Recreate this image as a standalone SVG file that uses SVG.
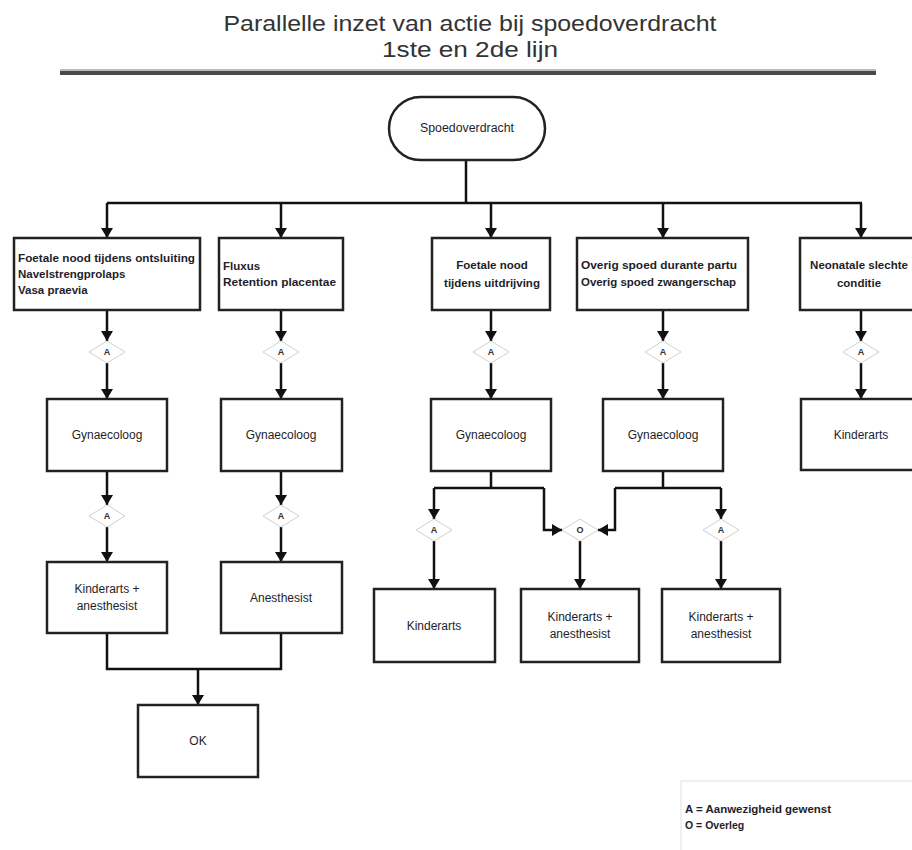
<svg xmlns="http://www.w3.org/2000/svg" width="912" height="850" viewBox="0 0 912 850">
<defs>
<marker id="ah" viewBox="0 0 10 12" refX="10" refY="6" markerWidth="10" markerHeight="12" markerUnits="userSpaceOnUse" orient="auto">
<path d="M0,0 L10,6 L0,12 z" fill="#111"/>
</marker>
</defs>
<style>
.box{fill:#fff;stroke:#222;stroke-width:2.5}
.dia{fill:#fff;stroke:#d0d0d0;stroke-width:1}
.c{fill:none;stroke:#111;stroke-width:2.5}
.a{marker-end:url(#ah)}
.t{font-family:"Liberation Sans",Arial,sans-serif;font-size:12px;fill:#1e1e2a}
.b{font-family:"Liberation Sans",Arial,sans-serif;font-size:11.5px;font-weight:bold;fill:#1e1e2a}
.m{text-anchor:middle}
.d{font-family:"Liberation Sans",Arial,sans-serif;font-size:9px;font-weight:bold;fill:#333;text-anchor:middle}
.title{font-family:"Liberation Sans",Arial,sans-serif;font-size:22px;fill:#333;text-anchor:middle}
</style>
<rect width="912" height="850" fill="#fff"/>

<g id="title">
<text class="title" x="470" y="31" textLength="493" lengthAdjust="spacingAndGlyphs">Parallelle inzet van actie bij spoedoverdracht</text>
<text class="title" x="470" y="57" textLength="176" lengthAdjust="spacingAndGlyphs">1ste en 2de lijn</text>
<rect x="60" y="69" width="816" height="2" fill="#bbb"/>
<rect x="60" y="71" width="816" height="4" fill="#4a4a4a"/>
</g>

<g id="connectors">
<path class="c" d="M466,160 V203 M107,203 H862"/>
<path class="c a" d="M107,203 V238"/>
<path class="c a" d="M281,203 V238"/>
<path class="c a" d="M491,203 V238"/>
<path class="c a" d="M663,203 V238"/>
<path class="c a" d="M861,203 V238"/>
<path class="c a" d="M107,310 V341"/>
<path class="c a" d="M281,310 V341"/>
<path class="c a" d="M491,310 V341"/>
<path class="c a" d="M663,310 V341"/>
<path class="c a" d="M861,310 V341"/>
<path class="c a" d="M107,363 V399"/>
<path class="c a" d="M281,363 V399"/>
<path class="c a" d="M491,363 V399"/>
<path class="c a" d="M663,363 V399"/>
<path class="c a" d="M861,363 V399"/>
<path class="c a" d="M107,471 V505"/>
<path class="c a" d="M281,471 V505"/>
<path class="c a" d="M107,527 V562"/>
<path class="c a" d="M281,527 V562"/>
<path class="c" d="M491,471 V488 M434,488 H544 M663,471 V488 M615,488 H721"/>
<path class="c a" d="M434,488 V519"/>
<path class="c a" d="M544,488 V530 H562"/>
<path class="c a" d="M615,488 V530 H598"/>
<path class="c a" d="M721,488 V519"/>
<path class="c a" d="M434,541 V589"/>
<path class="c a" d="M580,541 V589"/>
<path class="c a" d="M721,541 V589"/>
<path class="c" d="M107,633 V669 H281 V633"/>
<path class="c a" d="M198,669 V705"/>
</g>

<g id="start">
<rect class="box" x="389" y="97" width="156" height="63" rx="31.5"/>
<text class="t m" x="467" y="132" textLength="94" lengthAdjust="spacingAndGlyphs">Spoedoverdracht</text>
</g>

<g id="n1">
<rect class="box" x="14" y="238" width="186" height="72"/>
<text class="b" x="18" y="262" textLength="177" lengthAdjust="spacingAndGlyphs">Foetale nood tijdens ontsluiting</text>
<text class="b" x="18" y="278">Navelstrengprolaps</text>
<text class="b" x="18" y="294">Vasa praevia</text>
</g>
<g id="n2">
<rect class="box" x="219" y="238" width="124" height="72"/>
<text class="b" x="223" y="270">Fluxus</text>
<text class="b" x="223" y="286" textLength="113" lengthAdjust="spacingAndGlyphs">Retention placentae</text>
</g>
<g id="n3">
<rect class="box" x="432" y="238" width="118" height="72"/>
<text class="b m" x="492" y="269">Foetale nood</text>
<text class="b m" x="492" y="287">tijdens uitdrijving</text>
</g>
<g id="n4">
<rect class="box" x="577" y="238" width="171" height="72"/>
<text class="b" x="581" y="269" textLength="156" lengthAdjust="spacingAndGlyphs">Overig spoed durante partu</text>
<text class="b" x="581" y="286" textLength="155" lengthAdjust="spacingAndGlyphs">Overig spoed zwangerschap</text>
</g>
<g id="n5">
<rect class="box" x="800" y="238" width="124" height="72"/>
<text class="b m" x="859" y="269">Neonatale slechte</text>
<text class="b m" x="859" y="287">conditie</text>
</g>

<g id="d1"><path class="dia" d="M107,341 L125,352 L107,363 L89,352 z"/><text class="d" x="107" y="355">A</text></g>
<g id="d2"><path class="dia" d="M281,341 L299,352 L281,363 L263,352 z"/><text class="d" x="281" y="355">A</text></g>
<g id="d3"><path class="dia" d="M491,341 L509,352 L491,363 L473,352 z"/><text class="d" x="491" y="355">A</text></g>
<g id="d4"><path class="dia" d="M663,341 L681,352 L663,363 L645,352 z"/><text class="d" x="663" y="355">A</text></g>
<g id="d5"><path class="dia" d="M861,341 L879,352 L861,363 L843,352 z"/><text class="d" x="861" y="355">A</text></g>

<g id="g1"><rect class="box" x="47" y="399" width="120" height="72"/><text class="t m" x="107" y="439">Gynaecoloog</text></g>
<g id="g2"><rect class="box" x="221" y="399" width="121" height="72"/><text class="t m" x="281" y="439">Gynaecoloog</text></g>
<g id="g3"><rect class="box" x="431" y="399" width="120" height="72"/><text class="t m" x="491" y="439">Gynaecoloog</text></g>
<g id="g4"><rect class="box" x="603" y="399" width="120" height="72"/><text class="t m" x="663" y="439">Gynaecoloog</text></g>
<g id="k5"><rect class="box" x="801" y="399" width="120" height="71"/><text class="t m" x="861" y="439">Kinderarts</text></g>

<g id="d6"><path class="dia" d="M107,505 L125,516 L107,527 L89,516 z"/><text class="d" x="107" y="519">A</text></g>
<g id="d7"><path class="dia" d="M281,505 L299,516 L281,527 L263,516 z"/><text class="d" x="281" y="519">A</text></g>
<g id="d8"><path class="dia" d="M434,519 L452,530 L434,541 L416,530 z"/><text class="d" x="434" y="533">A</text></g>
<g id="d9"><path class="dia" d="M580,519 L598,530 L580,541 L562,530 z"/><text class="d" x="580" y="533">O</text></g>
<g id="d10"><path class="dia" d="M721,519 L739,530 L721,541 L703,530 z"/><text class="d" x="721" y="533">A</text></g>

<g id="r1"><rect class="box" x="47" y="562" width="120" height="71"/><text class="t m" x="107" y="593">Kinderarts +</text><text class="t m" x="107" y="610">anesthesist</text></g>
<g id="r2"><rect class="box" x="221" y="562" width="121" height="71"/><text class="t m" x="281" y="602">Anesthesist</text></g>
<g id="r3"><rect class="box" x="374" y="589" width="121" height="73"/><text class="t m" x="434" y="630">Kinderarts</text></g>
<g id="r4"><rect class="box" x="521" y="589" width="118" height="73"/><text class="t m" x="580" y="621">Kinderarts +</text><text class="t m" x="580" y="638">anesthesist</text></g>
<g id="r5"><rect class="box" x="662" y="589" width="118" height="73"/><text class="t m" x="721" y="621">Kinderarts +</text><text class="t m" x="721" y="638">anesthesist</text></g>

<g id="ok"><rect class="box" x="138" y="705" width="120" height="72"/><text class="t m" x="198" y="745">OK</text></g>

<g id="legend">
<rect x="681" y="781" width="240" height="80" fill="#fff" stroke="#e2e2e2" stroke-width="1"/>
<text class="b" style="font-size:10.5px" x="685" y="813" textLength="146" lengthAdjust="spacingAndGlyphs">A = Aanwezigheid gewenst</text>
<text class="b" style="font-size:10.5px" x="685" y="829">O = Overleg</text>
</g>
</svg>
